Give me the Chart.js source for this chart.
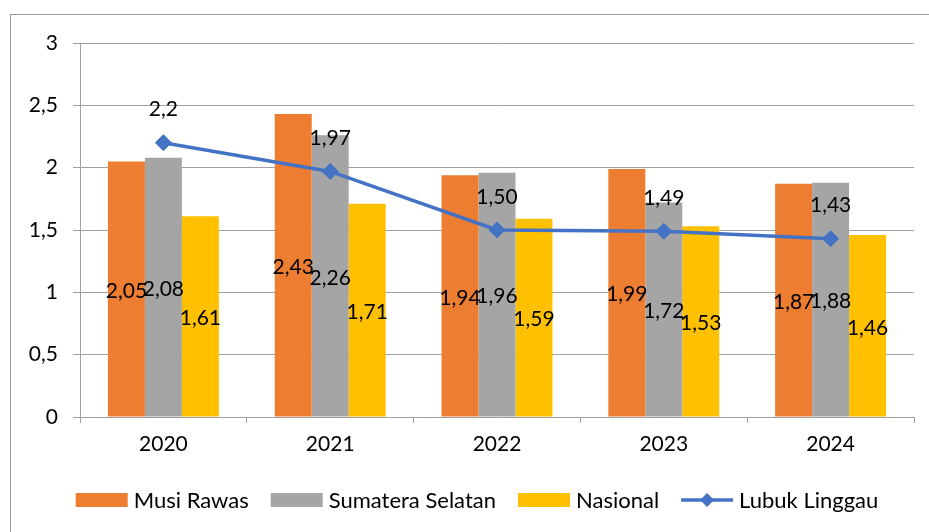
<!DOCTYPE html>
<html>
<head>
<meta charset="utf-8">
<script src="https://cdn.jsdelivr.net/npm/chart.js@4.4.1/dist/chart.umd.min.js"></script>
<style>
  html, body { margin: 0; padding: 0; background: #ffffff; }
  #wrap { width: 929px; height: 532px; position: relative; }
</style>
</head>
<body>
<div id="wrap"><canvas id="c" width="929" height="532"></canvas></div>
<script>
// ---- data ----
const categories = ['2020', '2021', '2022', '2023', '2024'];
const seriesNames = ['Musi Rawas', 'Sumatera Selatan', 'Nasional', 'Lubuk Linggau'];
const musiRawas = [2.05, 2.43, 1.94, 1.99, 1.87];
const sumateraSelatan = [2.08, 2.26, 1.96, 1.72, 1.88];
const nasional = [1.61, 1.71, 1.59, 1.53, 1.46];
const lubukLinggau = [2.2, 1.97, 1.50, 1.49, 1.43];
const lubukLinggauLabels = ['2,2', '1,97', '1,50', '1,49', '1,43'];
const yTickMin = 0, yTickMax = 3, yTickStep = 0.5;

const FONT = 'Lato, "Open Sans", "Liberation Sans", sans-serif';
const COLORS = ['#ED7D31', '#A5A5A5', '#FFC000', '#4472C4'];

function fmt(v) { return v.toFixed(2).replace('.', ','); }

const framePlugin = {
  id: 'frame',
  beforeDraw(chart) {
    const ctx = chart.ctx;
    ctx.save();
    ctx.strokeStyle = '#9a9a9a';
    ctx.lineWidth = 1;
    ctx.strokeRect(10.5, 14.5, 960, 560);
    ctx.restore();
  }
};

const labelPlugin = {
  id: 'valueLabels',
  afterDatasetsDraw(chart) {
    const ctx = chart.ctx;
    ctx.save();
    ctx.fillStyle = '#000';
    ctx.font = '21px ' + FONT;
    ctx.textAlign = 'center';
    ctx.textBaseline = 'middle';
    chart.data.datasets.forEach((ds, i) => {
      const meta = chart.getDatasetMeta(i);
      meta.data.forEach((el, j) => {
        if (ds.type === 'line') {
          ctx.fillText(lubukLinggauLabels[j], el.x, el.y - 33);
        } else {
          const mid = (el.y + el.base) / 2;
          ctx.fillText(fmt(ds.data[j]), el.x, mid + 2);
        }
      });
    });
    ctx.restore();
  }
};

const legendPlugin = {
  id: 'customLegend',
  afterDraw(chart) {
    const ctx = chart.ctx;
    ctx.save();
    ctx.font = '22px ' + FONT;
    ctx.textBaseline = 'middle';
    ctx.textAlign = 'left';
    const boxW = 52, boxH = 14, gapBox = 6, gapItem = 22;
    const widths = seriesNames.map(n => ctx.measureText(n).width);
    let total = 0;
    widths.forEach((w, i) => { total += boxW + gapBox + w + (i < widths.length - 1 ? gapItem : 0); });
    let x = 477 - total / 2;
    const yc = 500;
    seriesNames.forEach((n, i) => {
      if (i < 3) {
        ctx.fillStyle = COLORS[i];
        ctx.fillRect(x, yc - boxH / 2, boxW, boxH);
      } else {
        ctx.strokeStyle = COLORS[3];
        ctx.lineWidth = 3.5;
        ctx.beginPath();
        ctx.moveTo(x, yc);
        ctx.lineTo(x + boxW, yc);
        ctx.stroke();
        ctx.fillStyle = COLORS[3];
        ctx.beginPath();
        const cx = x + boxW / 2, r = 7;
        ctx.moveTo(cx - r, yc); ctx.lineTo(cx, yc - r); ctx.lineTo(cx + r, yc); ctx.lineTo(cx, yc + r);
        ctx.closePath();
        ctx.fill();
      }
      ctx.fillStyle = '#000';
      ctx.fillText(n, x + boxW + gapBox, yc + 1);
      x += boxW + gapBox + widths[i] + gapItem;
    });
    ctx.restore();
  }
};

const barData = [musiRawas, sumateraSelatan, nasional];

new Chart(document.getElementById('c'), {
  data: {
    labels: categories,
    datasets: [
      {
        type: 'line', label: seriesNames[3], data: lubukLinggau,
        borderColor: COLORS[3], backgroundColor: COLORS[3], borderWidth: 3.5,
        pointStyle: 'rectRot', pointRadius: 8, pointBorderWidth: 1,
        pointBackgroundColor: COLORS[3], pointBorderColor: COLORS[3],
        tension: 0, order: 0
      },
      ...barData.map((d, i) => ({
        type: 'bar', label: seriesNames[i], data: d,
        backgroundColor: COLORS[i], borderWidth: 0,
        categoryPercentage: 0.665, barPercentage: 1, order: 1
      }))
    ]
  },
  options: {
    responsive: false,
    animation: false,
    devicePixelRatio: 1,
    layout: { padding: { top: 43, right: 15, left: 0, bottom: 0 } },
    plugins: { legend: { display: false }, tooltip: { enabled: false } },
    scales: {
      x: {
        offset: true,
        grid: { display: true, drawOnChartArea: false, offset: true, tickLength: 6, color: '#a0a0a0' },
        border: { display: true, color: '#a0a0a0' },
        ticks: { font: { family: FONT, size: 21 }, color: '#000', padding: 9, maxRotation: 0 },
        afterFit(scale) { scale.height = 115; }
      },
      y: {
        min: yTickMin, max: yTickMax,
        ticks: {
          stepSize: yTickStep, font: { family: FONT, size: 21 }, color: '#000', padding: 15,
          callback: v => String(v).replace('.', ',')
        },
        grid: { color: '#a0a0a0', tickLength: 7 },
        border: { display: true, color: '#a0a0a0' },
        afterFit(scale) { scale.width = 80; }
      }
    }
  },
  plugins: [framePlugin, labelPlugin, legendPlugin]
});
</script>
</body>
</html>
